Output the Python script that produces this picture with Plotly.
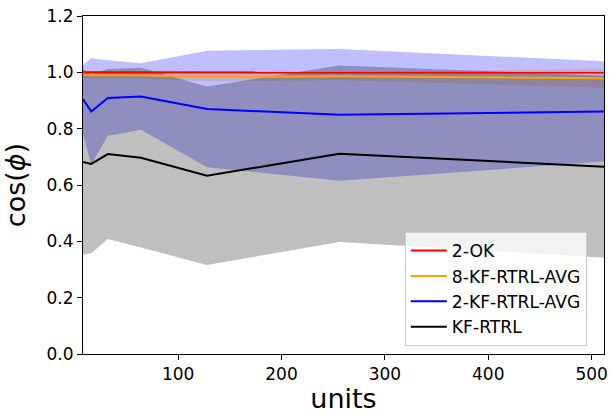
import plotly.graph_objects as go

units = [8, 16, 32, 64, 128, 256, 512]

ok2_mean = [1.000, 1.000, 1.000, 1.000, 1.000, 0.999, 0.999]
ok2_std = [0.003, 0.003, 0.003, 0.003, 0.003, 0.003, 0.003]

kf8_mean = [0.992, 0.990, 0.990, 0.990, 0.984, 0.986, 0.979]
kf8_std = [0.012, 0.012, 0.012, 0.012, 0.016, 0.014, 0.034]

kf2_mean = [0.905, 0.861, 0.909, 0.914, 0.870, 0.849, 0.861]
kf2_std = [0.122, 0.189, 0.134, 0.118, 0.207, 0.234, 0.178]

kf_mean = [0.682, 0.675, 0.710, 0.697, 0.633, 0.711, 0.665]
kf_std = [0.330, 0.317, 0.302, 0.319, 0.317, 0.313, 0.323]

series = [
    ("2-OK", ok2_mean, ok2_std, "rgb(255,0,0)", "rgba(255,0,0,0.25)"),
    ("8-KF-RTRL-AVG", kf8_mean, kf8_std, "rgb(255,165,0)", "rgba(255,165,0,0.25)"),
    ("2-KF-RTRL-AVG", kf2_mean, kf2_std, "rgb(0,0,255)", "rgba(0,0,255,0.25)"),
    ("KF-RTRL", kf_mean, kf_std, "rgb(0,0,0)", "rgba(0,0,0,0.25)"),
]

fig = go.Figure()

# bands first (below all lines)
for name, m, s, lc, fc in series:
    upper = [a + b for a, b in zip(m, s)]
    lower = [a - b for a, b in zip(m, s)]
    fig.add_trace(go.Scatter(
        x=units + units[::-1],
        y=upper + lower[::-1],
        fill="toself", fillcolor=fc, mode="none",
        line=dict(width=0), showlegend=False, hoverinfo="skip",
    ))

for name, m, s, lc, fc in series:
    fig.add_trace(go.Scatter(
        x=units, y=m, mode="lines", name=name,
        line=dict(color=lc, width=2),
    ))

axis_common = dict(
    showline=True, linecolor="black", linewidth=1, mirror=True,
    ticks="outside", ticklen=5, tickwidth=1, tickcolor="black",
    showgrid=False, zeroline=False, automargin=False,
    ticklabeloverflow="allow",
    tickfont=dict(family="DejaVu Sans", size=17, color="black"),
)

fig.update_layout(
    width=611, height=414,
    margin=dict(l=83, r=7, t=16, b=60),
    plot_bgcolor="white", paper_bgcolor="white",
    font=dict(family="DejaVu Sans", color="black"),
    xaxis=dict(
        range=[8, 512], tickvals=[100, 200, 300, 400, 500],
        title=dict(text="units", font=dict(size=27), standoff=2),
        **axis_common,
    ),
    yaxis=dict(
        range=[0, 1.2], tickvals=[0, 0.2, 0.4, 0.6, 0.8, 1.0, 1.2],
        ticktext=["0.0", "0.2", "0.4", "0.6", "0.8", "1.0", "1.2"],
        title=dict(text="cos(<i>ϕ</i>)", font=dict(size=27), standoff=18),
        **axis_common,
    ),
    legend=dict(
        x=0.967, y=0.024, xanchor="right", yanchor="bottom",
        bgcolor="rgba(255,255,255,0.8)", bordercolor="#cccccc", borderwidth=1,
        font=dict(family="DejaVu Sans", size=17.2, color="black"),
        tracegroupgap=0, itemwidth=36,
    ),
    showlegend=True,
)

fig.write_html(
    "out.html",
    config={"displayModeBar": False},
    post_script="document.body.style.margin='0';document.body.style.overflow='hidden';",
)
